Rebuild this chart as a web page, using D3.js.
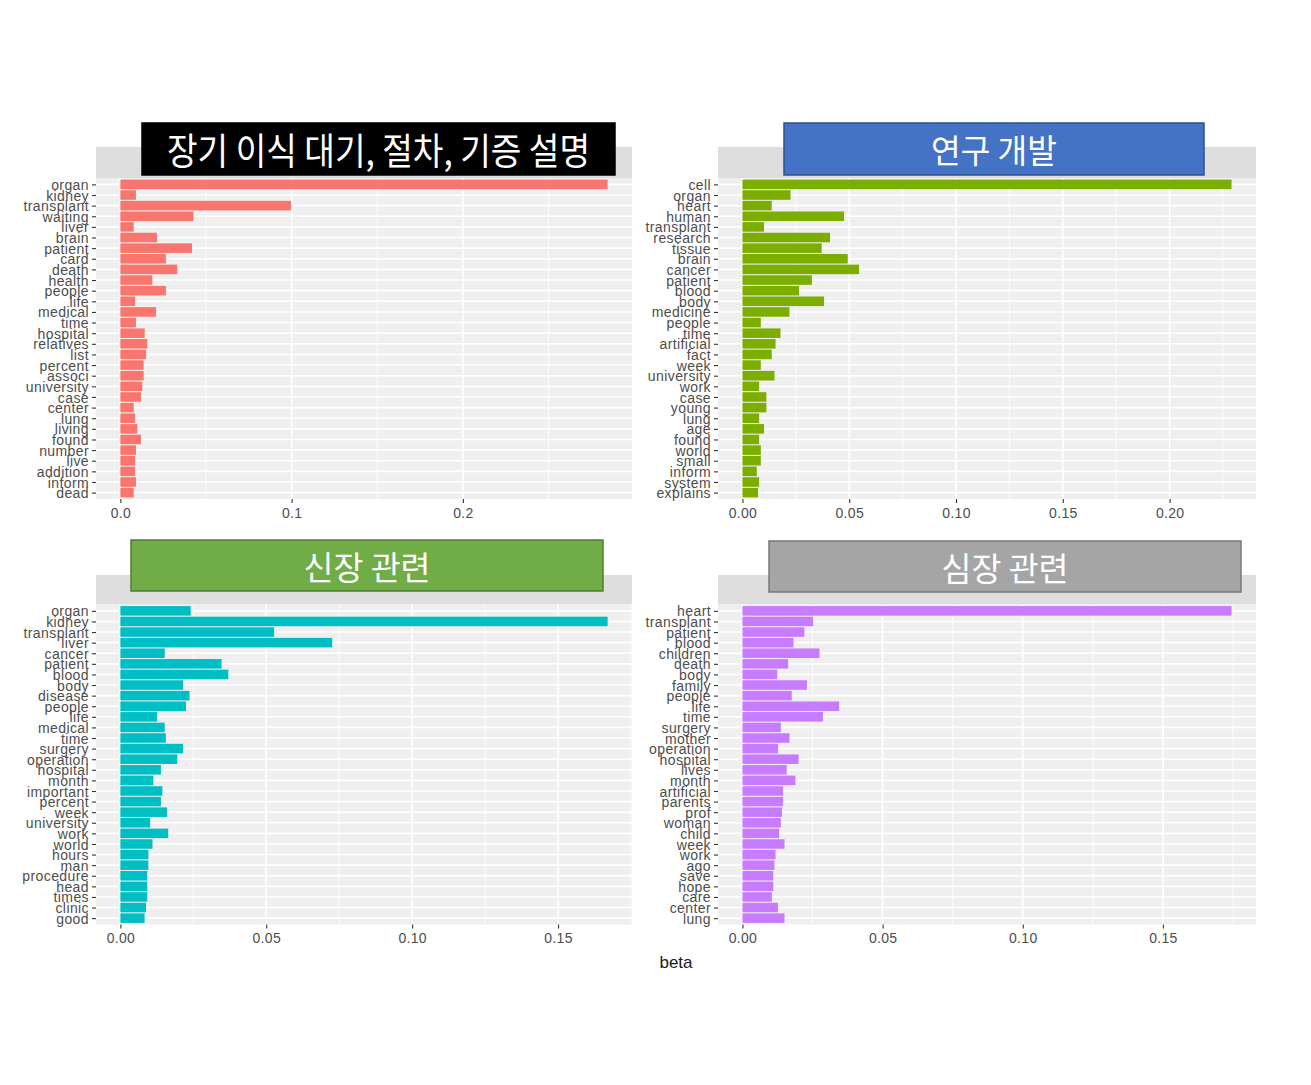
<!DOCTYPE html>
<html>
<head>
<meta charset="utf-8">
<script src="https://cdn.jsdelivr.net/npm/d3@7"></script>
<style>
  html, body { margin: 0; padding: 0; background: #ffffff; }
  svg { display: block; }
</style>
</head>
<body>
<svg id="chart" width="1311" height="1085"></svg>
<script>
// ---------------- DATA ----------------
const topicTitles = ["장기 이식 대기, 절차, 기증 설명", "연구 개발", "신장 관련", "심장 관련"];

const words1 = ["organ","kidney","transplant","waiting","liver","brain","patient","card","death","health",
  "people","life","medical","time","hospital","relatives","list","percent","associ","university",
  "case","center","lung","living","found","number","live","addition","inform","dead"];
const beta1 = [0.2845,0.0091,0.0997,0.0426,0.0078,0.0214,0.0418,0.0266,0.0332,0.0187,
  0.0266,0.0086,0.0208,0.0091,0.0142,0.0157,0.0150,0.0136,0.0136,0.0128,
  0.0120,0.0078,0.0086,0.0099,0.0120,0.0091,0.0086,0.0086,0.0091,0.0078];

const words2 = ["cell","organ","heart","human","transplant","research","tissue","brain","cancer","patient",
  "blood","body","medicine","people","time","artificial","fact","week","university","work",
  "case","young","lung","age","found","world","small","inform","system","explains"];
const beta2 = [0.2290,0.0225,0.0137,0.0476,0.0101,0.0410,0.0371,0.0493,0.0546,0.0325,
  0.0265,0.0382,0.0220,0.0086,0.0178,0.0155,0.0137,0.0086,0.0150,0.0078,
  0.0112,0.0112,0.0078,0.0101,0.0078,0.0086,0.0086,0.0067,0.0078,0.0073];

const words3 = ["organ","kidney","transplant","liver","cancer","patient","blood","body","disease","people",
  "life","medical","time","surgery","operation","hospital","month","important","percent","week",
  "university","work","world","hours","man","procedure","head","times","clinic","good"];
const beta3 = [0.0241,0.1670,0.0527,0.0726,0.0152,0.0347,0.0370,0.0215,0.0237,0.0225,
  0.0126,0.0152,0.0156,0.0215,0.0195,0.0139,0.0113,0.0144,0.0139,0.0160,
  0.0102,0.0164,0.0110,0.0096,0.0096,0.0092,0.0092,0.0092,0.0088,0.0083];

const words4 = ["heart","transplant","patient","blood","children","death","body","family","people","life",
  "time","surgery","mother","operation","hospital","lives","month","artificial","parents","prof",
  "woman","child","week","work","ago","save","hope","care","center","lung"];
const beta4 = [0.1745,0.0252,0.0221,0.0182,0.0275,0.0163,0.0124,0.0230,0.0176,0.0345,
  0.0287,0.0137,0.0168,0.0127,0.0200,0.0158,0.0189,0.0145,0.0145,0.0141,
  0.0137,0.0131,0.0150,0.0118,0.0114,0.0110,0.0110,0.0105,0.0127,0.0150];

const ticks1 = [0, 0.1, 0.2];
const tickLabels1 = ["0.0", "0.1", "0.2"];
const ticks2 = [0, 0.05, 0.10, 0.15, 0.20];
const tickLabels2 = ["0.00", "0.05", "0.10", "0.15", "0.20"];
const ticks3 = [0, 0.05, 0.10, 0.15];
const tickLabels3 = ["0.00", "0.05", "0.10", "0.15"];
const ticks4 = [0, 0.05, 0.10, 0.15];
const tickLabels4 = ["0.00", "0.05", "0.10", "0.15"];
const axisTitle = "beta";

const barColors = ["#F8766D", "#7CAE00", "#00BFC4", "#C77CFF"];

// ---------------- LAYOUT ----------------
const panels = [
  {words: words1, beta: beta1, ticks: ticks1, labels: tickLabels1, color: barColors[0],
   left: 96, right: 632, stripTop: 147, top: 178, bottom: 499},
  {words: words2, beta: beta2, ticks: ticks2, labels: tickLabels2, color: barColors[1],
   left: 718, right: 1256, stripTop: 147, top: 178, bottom: 499},
  {words: words3, beta: beta3, ticks: ticks3, labels: tickLabels3, color: barColors[2],
   left: 96, right: 632, stripTop: 575, top: 604.5, bottom: 924.5},
  {words: words4, beta: beta4, ticks: ticks4, labels: tickLabels4, color: barColors[3],
   left: 718, right: 1256, stripTop: 575, top: 604.5, bottom: 924.5}
];

const titleBoxes = [
  {x: 142, y: 123, w: 473, h: 52, fill: "#000000", stroke: "#000000", size: 37, len: 423},
  {x: 784, y: 123, w: 420, h: 52, fill: "#4472C4", stroke: "#2F528F", size: 33, len: 126},
  {x: 131, y: 540, w: 472, h: 51, fill: "#70AD47", stroke: "#507E32", size: 33, len: 127},
  {x: 769, y: 541, w: 472, h: 51, fill: "#A5A5A5", stroke: "#787878", size: 33, len: 127}
];

const svg = d3.select("#chart");
const FONT = "'Liberation Sans', Arial, 'DejaVu Sans', sans-serif";

panels.forEach(p => {
  const g = svg.append("g");
  const maxV = d3.max(p.beta);
  const x = d3.scaleLinear().domain([-0.05 * maxV, 1.05 * maxV]).range([p.left, p.right]);
  const y = d3.scalePoint().domain(p.words).range([p.top, p.bottom]).padding(0.6);
  const step = y.step();

  // strip
  g.append("rect").attr("x", p.left).attr("y", p.stripTop)
    .attr("width", p.right - p.left).attr("height", p.top - p.stripTop)
    .attr("fill", "#DEDEDE");
  // panel background
  g.append("rect").attr("x", p.left).attr("y", p.top)
    .attr("width", p.right - p.left).attr("height", p.bottom - p.top)
    .attr("fill", "#EFEFEF");

  // minor vertical gridlines
  const tstep = p.ticks[1] - p.ticks[0];
  const dom = x.domain();
  const minor = [];
  for (let k = -10; k < 40; k++) {
    const v = (k + 0.5) * tstep;
    if (v > dom[0] && v < dom[1]) minor.push(v);
  }
  g.selectAll(".minor").data(minor).enter().append("line")
    .attr("x1", d => x(d)).attr("x2", d => x(d))
    .attr("y1", p.top).attr("y2", p.bottom)
    .attr("stroke", "#ffffff").attr("stroke-width", 0.8);
  // major vertical gridlines
  const majorV = p.ticks.filter(v => v >= dom[0] && v <= dom[1]);
  g.selectAll(".majorV").data(majorV).enter().append("line")
    .attr("x1", d => x(d)).attr("x2", d => x(d))
    .attr("y1", p.top).attr("y2", p.bottom)
    .attr("stroke", "#ffffff").attr("stroke-width", 1.6);
  // major horizontal gridlines
  g.selectAll(".majorH").data(p.words).enter().append("line")
    .attr("x1", p.left).attr("x2", p.right)
    .attr("y1", d => y(d)).attr("y2", d => y(d))
    .attr("stroke", "#ffffff").attr("stroke-width", 1.6);

  // bars
  g.selectAll(".bar").data(p.words.map((w, i) => ({w, v: p.beta[i]}))).enter().append("rect")
    .attr("x", x(0))
    .attr("y", d => y(d.w) - step * 0.45)
    .attr("width", d => x(d.v) - x(0))
    .attr("height", step * 0.9)
    .attr("fill", p.color);

  // y axis
  const ya = g.append("g").attr("transform", `translate(${p.left},0)`)
    .call(d3.axisLeft(y).tickSize(4).tickPadding(3));
  ya.select(".domain").remove();
  ya.selectAll(".tick line").attr("stroke", "#333333").attr("stroke-width", 1.1);
  ya.selectAll(".tick text").attr("fill", "#4D4D4D")
    .style("font-family", FONT).style("font-size", "14px").style("letter-spacing", "0.4px")
    .attr("dy", "0.36em");

  // x axis
  const xa = g.append("g").attr("transform", `translate(0,${p.bottom})`)
    .call(d3.axisBottom(x).tickValues(p.ticks).tickFormat((d, i) => p.labels[i]).tickSize(4).tickPadding(5));
  xa.select(".domain").remove();
  xa.selectAll(".tick line").attr("stroke", "#333333").attr("stroke-width", 1.1);
  xa.selectAll(".tick text").attr("fill", "#4D4D4D")
    .style("font-family", FONT).style("font-size", "14px").style("letter-spacing", "0.3px");
});

// axis title
svg.append("text").attr("x", 676).attr("y", 968).attr("text-anchor", "middle")
  .style("font-family", FONT).style("font-size", "17px").attr("fill", "#1a1a1a")
  .text(axisTitle);

// title overlay boxes
titleBoxes.forEach((b, i) => {
  svg.append("rect").attr("x", b.x).attr("y", b.y).attr("width", b.w).attr("height", b.h)
    .attr("fill", b.fill).attr("stroke", b.stroke).attr("stroke-width", 1.5);
  svg.append("text").attr("x", b.x + b.w / 2).attr("y", b.y + b.h / 2)
    .attr("text-anchor", "middle").attr("dominant-baseline", "central")
    .attr("textLength", b.len).attr("lengthAdjust", "spacingAndGlyphs")
    .style("font-family", "'Noto Sans CJK KR', 'Noto Sans CJK SC', sans-serif")
    .style("font-size", b.size + "px").attr("fill", "#ffffff")
    .text(topicTitles[i]);
});
</script>
</body>
</html>
